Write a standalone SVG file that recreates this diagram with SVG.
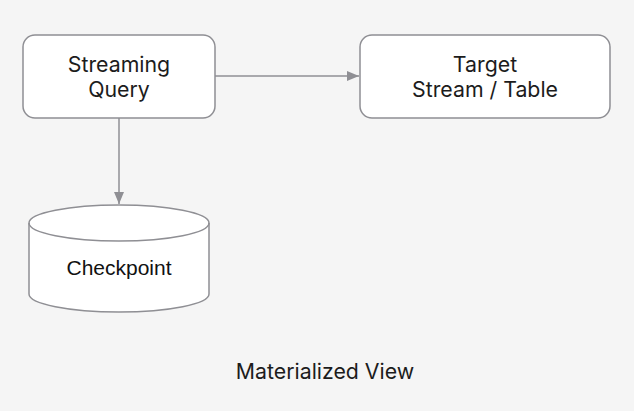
<svg xmlns="http://www.w3.org/2000/svg" width="634" height="411" viewBox="0 0 634 411">
<style>
.box{fill:#ffffff;stroke:#8f8f94;stroke-width:1.5}
.edge{fill:none;stroke:#8f8f94;stroke-width:1.5}
.t{font-family:Inter,"Liberation Sans",sans-serif;font-size:21.3px;fill:#1c1c1c;text-anchor:middle}
.ta{font-family:"Liberation Sans",Arial,sans-serif;font-size:21px;fill:#111;text-anchor:middle}
</style>
<defs>
<marker id="arr" viewBox="0 0 12 10" refX="12" refY="5" markerWidth="12" markerHeight="10" markerUnits="userSpaceOnUse" orient="auto">
<path d="M0,0 L12,5 L0,10 z" fill="#8f8f94"/>
</marker>
</defs>
<rect width="634" height="411" fill="#f5f5f5"/>
<g id="connectors">
<line class="edge" x1="215" y1="76" x2="359" y2="76" marker-end="url(#arr)"/>
<line class="edge" x1="119" y1="118" x2="119" y2="204" marker-end="url(#arr)"/>
</g>
<g id="streaming-query">
<rect class="box" x="23" y="35" width="192" height="83" rx="12"/>
<text class="t" x="119" y="72">Streaming</text>
<text class="t" x="119" y="97">Query</text>
</g>
<g id="target">
<rect class="box" x="360" y="35" width="250" height="83" rx="12"/>
<text class="t" x="485" y="72">Target</text>
<text class="t" x="485" y="97">Stream / Table</text>
</g>
<g id="checkpoint">
<path class="box" d="M29,223 A90,18 0 0 1 209,223 L209,294 A90,18 0 0 1 29,294 Z"/>
<path class="edge" d="M29,223 A90,18 0 0 0 209,223"/>
<text class="ta" x="119" y="275">Checkpoint</text>
</g>
<g id="title">
<text class="t" x="325" y="379">Materialized View</text>
</g>
</svg>
